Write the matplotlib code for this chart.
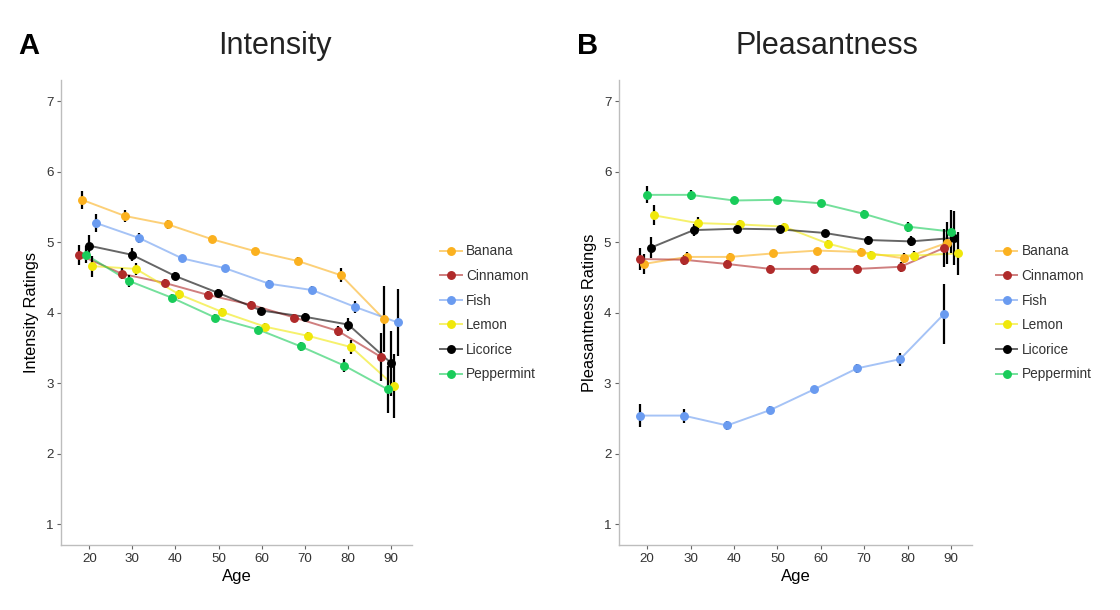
import matplotlib
matplotlib.use("Agg")
import matplotlib.pyplot as plt
from matplotlib.lines import Line2D
from matplotlib.legend_handler import HandlerTuple

plt.rcParams['font.family'] = ['Liberation Sans', 'DejaVu Sans']

ODORS = ["Banana", "Cinnamon", "Fish", "Lemon", "Licorice", "Peppermint"]
COLORS = {"Banana": "#FBB11F", "Cinnamon": "#B02A2A", "Fish": "#6A9BF0",
          "Lemon": "#F0E80A", "Licorice": "#000000", "Peppermint": "#19CC5A"}

Y_TICKS = [1, 2, 3, 4, 5, 6, 7]
X_TICKS = [20, 30, 40, 50, 60, 70, 80, 90]

# ---- Panel A: Intensity ----
INT_AGE = {
    "Banana":     [18.3, 28.3, 38.3, 48.5, 58.5, 68.5, 78.4, 88.3],
    "Cinnamon":   [17.6, 27.6, 37.6, 47.6, 57.6, 67.6, 77.7, 87.7],
    "Fish":       [21.6, 31.5, 41.5, 51.5, 61.7, 71.7, 81.7, 91.6],
    "Lemon":      [20.6, 30.8, 40.8, 50.8, 60.8, 70.8, 80.8, 90.8],
    "Licorice":   [19.9, 29.9, 39.9, 49.9, 59.9, 70.1, 80.1, 90.1],
    "Peppermint": [19.2, 29.2, 39.2, 49.2, 59.2, 69.1, 79.1, 89.3],
}
INT_MEAN = {
    "Banana":     [5.60, 5.37, 5.25, 5.04, 4.87, 4.73, 4.53, 3.91],
    "Cinnamon":   [4.82, 4.55, 4.42, 4.25, 4.11, 3.93, 3.74, 3.37],
    "Fish":       [5.27, 5.06, 4.77, 4.63, 4.41, 4.32, 4.08, 3.86],
    "Lemon":      [4.66, 4.62, 4.26, 4.01, 3.80, 3.67, 3.51, 2.96],
    "Licorice":   [4.95, 4.82, 4.52, 4.28, 4.03, 3.94, 3.83, 3.28],
    "Peppermint": [4.82, 4.45, 4.21, 3.93, 3.76, 3.52, 3.25, 2.91],
}
INT_SE = {
    "Banana":     [0.13, 0.08, 0.06, 0.05, 0.05, 0.06, 0.10, 0.47],
    "Cinnamon":   [0.14, 0.08, 0.05, 0.05, 0.05, 0.05, 0.07, 0.34],
    "Fish":       [0.13, 0.07, 0.05, 0.05, 0.05, 0.06, 0.08, 0.47],
    "Lemon":      [0.15, 0.09, 0.06, 0.06, 0.05, 0.06, 0.10, 0.45],
    "Licorice":   [0.15, 0.09, 0.06, 0.05, 0.05, 0.06, 0.09, 0.46],
    "Peppermint": [0.12, 0.08, 0.06, 0.05, 0.05, 0.06, 0.09, 0.33],
}

# ---- Panel B: Pleasantness ----
PLS_AGE = {
    "Banana":     [19.2, 29.2, 39.1, 49.1, 59.2, 69.2, 79.1, 89.1],
    "Cinnamon":   [18.4, 28.4, 38.4, 48.4, 58.4, 68.4, 78.4, 88.5],
    "Fish":       [18.3, 28.4, 38.4, 48.4, 58.4, 68.4, 78.3, 88.4],
    "Lemon":      [21.5, 31.6, 41.5, 51.5, 61.6, 71.6, 81.6, 91.6],
    "Licorice":   [20.8, 30.7, 40.7, 50.7, 60.9, 70.8, 80.8, 90.8],
    "Peppermint": [20.0, 30.0, 40.0, 49.9, 60.0, 70.0, 80.0, 90.0],
}
PLS_MEAN = {
    "Banana":     [4.69, 4.79, 4.79, 4.84, 4.88, 4.86, 4.77, 4.99],
    "Cinnamon":   [4.76, 4.75, 4.69, 4.62, 4.62, 4.62, 4.65, 4.92],
    "Fish":       [2.54, 2.54, 2.40, 2.62, 2.91, 3.21, 3.34, 3.98],
    "Lemon":      [5.38, 5.27, 5.25, 5.22, 4.98, 4.82, 4.81, 4.84],
    "Licorice":   [4.92, 5.17, 5.19, 5.18, 5.13, 5.03, 5.01, 5.06],
    "Peppermint": [5.67, 5.67, 5.59, 5.60, 5.55, 5.40, 5.22, 5.15],
}
PLS_SE = {
    "Banana":     [0.14, 0.07, 0.05, 0.05, 0.04, 0.05, 0.07, 0.30],
    "Cinnamon":   [0.15, 0.07, 0.06, 0.05, 0.04, 0.05, 0.07, 0.27],
    "Fish":       [0.16, 0.10, 0.06, 0.06, 0.05, 0.06, 0.09, 0.43],
    "Lemon":      [0.14, 0.08, 0.06, 0.05, 0.05, 0.05, 0.07, 0.30],
    "Licorice":   [0.15, 0.08, 0.06, 0.05, 0.04, 0.05, 0.07, 0.38],
    "Peppermint": [0.12, 0.07, 0.04, 0.04, 0.04, 0.05, 0.07, 0.30],
}

fig = plt.figure(figsize=(11.2, 6.1), dpi=100)
fig.patch.set_facecolor("white")

SPINE = "#BDBDBD"
TXT = "#333333"


def draw_panel(ax, ages, means, ses, ylabel):
    for od in ODORS:
        c = COLORS[od]
        ax.plot(ages[od], means[od], color=c, lw=1.4, alpha=0.6, zorder=2)
        ax.errorbar(ages[od], means[od], yerr=ses[od], fmt="none",
                    ecolor="black", elinewidth=1.6, capsize=0, zorder=3)
        ax.plot(ages[od], means[od], linestyle="none", marker="o",
                ms=5.4, color=c, mec=c, zorder=4)
    ax.set_xlim(13.5, 94.8)
    ax.set_ylim(0.7, 7.3)
    ax.set_xticks(X_TICKS)
    ax.set_yticks(Y_TICKS)
    for s in ["top", "right"]:
        ax.spines[s].set_visible(False)
    for s in ["left", "bottom"]:
        ax.spines[s].set_color(SPINE)
        ax.spines[s].set_linewidth(1.0)
    ax.tick_params(axis="both", length=3, width=0.8, color="#666666",
                   labelsize=9.6, labelcolor=TXT, pad=2.5)
    ax.set_xlabel("Age", fontsize=12, color="black", labelpad=3)
    ax.set_ylabel(ylabel, fontsize=11.8, color="black", labelpad=5)


axA = fig.add_axes([0.0547, 0.106, 0.3129, 0.763])
draw_panel(axA, INT_AGE, INT_MEAN, INT_SE, "Intensity Ratings")
axB = fig.add_axes([0.5527, 0.106, 0.3149, 0.763])
draw_panel(axB, PLS_AGE, PLS_MEAN, PLS_SE, "Pleasantness Ratings")

handles = [(Line2D([0], [0], color=COLORS[od], lw=1.4, alpha=0.6),
            Line2D([0], [0], linestyle="none", marker="o", ms=5.4,
                   mfc=COLORS[od], mec=COLORS[od]))
           for od in ODORS]

for x0 in (0.393, 0.889):
    lg = fig.legend(handles, ODORS, loc="center left",
                    bbox_to_anchor=(x0, 0.487), bbox_transform=fig.transFigure,
                    frameon=False, fontsize=9.8, handlelength=1.6,
                    handletextpad=0.3, labelspacing=0.78, borderpad=0,
                    borderaxespad=0,
                    handler_map={tuple: HandlerTuple(ndivide=1, pad=0)})
    for t in lg.get_texts():
        t.set_color(TXT)

fig.text(275 / 1120, 1 - 46 / 610, "Intensity", fontsize=22, ha="center",
         va="center", color="#222222")
fig.text(827 / 1120, 1 - 46 / 610, "Pleasantness", fontsize=22, ha="center",
         va="center", color="#222222")
fig.text(18 / 1120, 1 - 46 / 610, "A", fontsize=21, fontweight="bold",
         ha="left", va="center", color="black")
fig.text(577 / 1120, 1 - 46 / 610, "B", fontsize=21, fontweight="bold",
         ha="left", va="center", color="black")

fig.savefig("out.png", dpi=100, facecolor="white")
